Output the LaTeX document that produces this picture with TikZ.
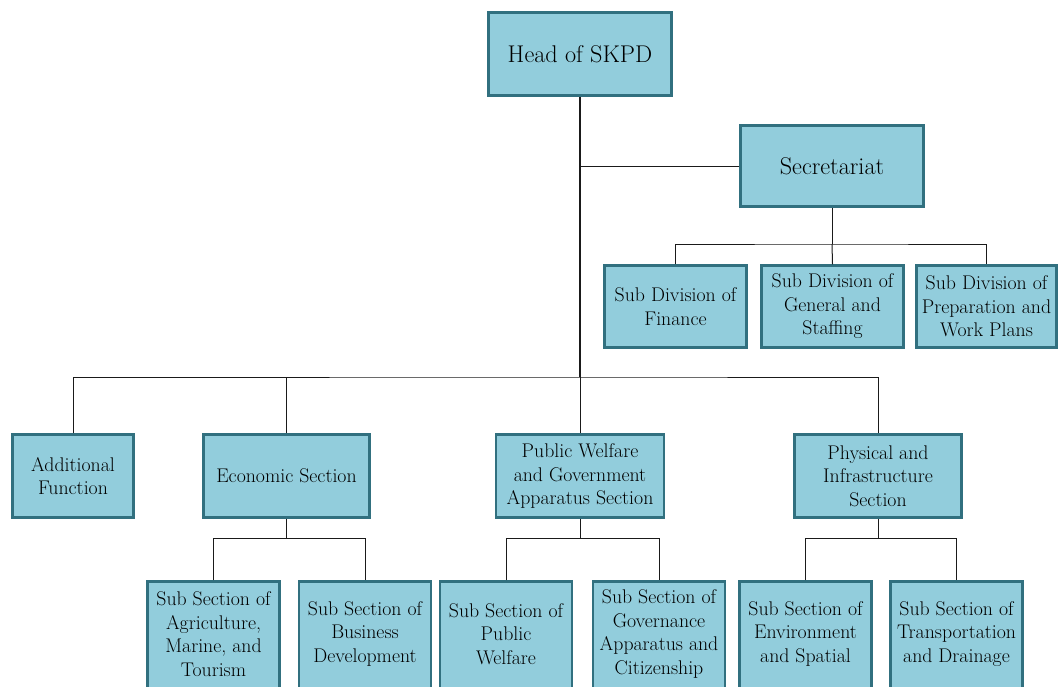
\documentclass[tikz,border=0pt]{standalone}
\definecolor{boxfill}{HTML}{92CDDC}
\definecolor{boxline}{HTML}{31707F}
\definecolor{linecol}{HTML}{1A1A1A}
\begin{document}
\begin{tikzpicture}[x=1pt,y=-1pt,
  box/.style={draw=boxline, line width=2.5pt, fill=boxfill, inner sep=1pt, align=center,
    font=\fontsize{19.8}{23.5}\selectfont},
  bigbox/.style={box, font=\fontsize{24.2}{28}\selectfont},
  subbox/.style={box, minimum width=132pt, minimum height=112pt, text depth=11pt},
  conn/.style={line width=1pt, draw=linecol},
  trunk/.style={line width=1.8pt, draw=linecol}]
\useasboundingbox (0,0) rectangle (1059,686);
\clip (0,0) rectangle (1059,686);
% top
\node[bigbox, minimum width=183pt, minimum height=83pt] (head) at (580,54) {Head of SKPD};
\node[bigbox, minimum width=183pt, minimum height=81pt] (sec) at (832,166) {Secretariat};
% subdivisions
\node[box, minimum width=142pt, minimum height=82pt] (fin) at (675.5,306.5) {Sub Division of\\Finance};
\node[box, minimum width=142pt, minimum height=82pt] (gen) at (832.5,306.5) {Sub Division of\\General and\\Staffing};
\node[box, minimum width=140pt, minimum height=82pt] (prep) at (986.5,306.5) {Sub Division of\\Preparation and\\Work Plans};
% sections
\node[box, minimum width=121pt, minimum height=83pt] (add) at (73,476) {Additional\\Function};
\node[box, minimum width=166pt, minimum height=83pt] (eco) at (286.5,476) {Economic Section};
\node[box, minimum width=168pt, minimum height=83pt] (pw) at (580,476) {Public Welfare\\and Government\\Apparatus Section};
\node[box, minimum width=167pt, minimum height=83pt] (phys) at (878,476) {Physical and\\Infrastructure\\Section};
% subsections
\node[subbox, text depth=7pt] (agr) at (213.5,637.5) {Sub Section of\\Agriculture,\\Marine, and\\Tourism};
\node[subbox] (bus) at (365,637.5) {Sub Section of\\Business\\Development};
\node[subbox, text depth=7pt] (pws) at (506,637.5) {Sub Section of\\Public\\Welfare};
\node[subbox] (gov) at (659,637.5) {Sub Section of\\Governance\\Apparatus and\\Citizenship};
\node[subbox] (env) at (805.5,637.5) {Sub Section of\\Environment\\and Spatial};
\node[subbox] (tra) at (956.5,637.5) {Sub Section of\\Transportation\\and Drainage};
% junctions
\coordinate (j1) at (580,377);
\coordinate (sj) at (832,244);
\coordinate (ej) at (286.5,538);
\coordinate (pj) at (580,538);
\coordinate (fj) at (878,538);
% connectors
\draw[trunk] (head.south) -- (j1);
\draw[conn] (sec.west) -- (sec.west -| head.south);
\draw[conn] (sec.south) -- (sj);
\draw[conn] (fin.north) |- (sj) -| (prep.north);
\draw[conn] (sj) -- (gen.north);
\draw[conn] (add.north) |- (j1) -| (phys.north);
\draw[conn] (eco.north) -- (eco.north |- j1);
\draw[conn] (j1) -- (pw.north);
\draw[conn] (eco.south) -- (ej);
\draw[conn] (agr.north) |- (ej) -| (bus.north);
\draw[conn] (pw.south) -- (pj);
\draw[conn] (pws.north) |- (pj) -| (gov.north);
\draw[conn] (phys.south) -- (fj);
\draw[conn] (env.north) |- (fj) -| (tra.north);
\end{tikzpicture}
\end{document}
